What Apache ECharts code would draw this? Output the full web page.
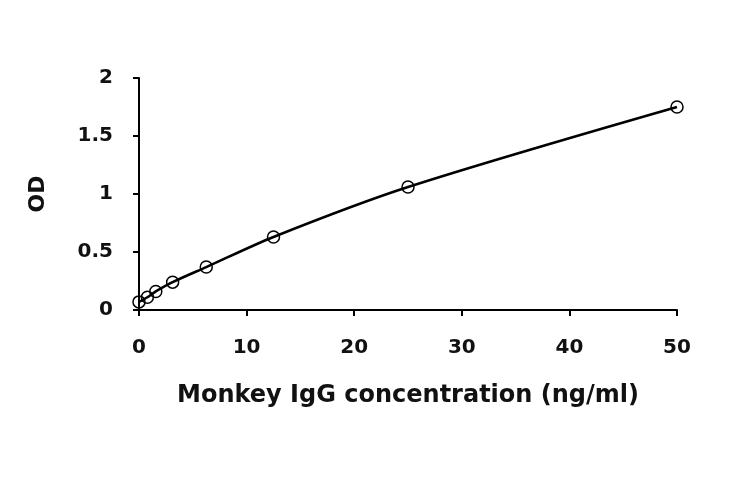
<!DOCTYPE html>
<html><head><meta charset="utf-8">
<script src="https://cdn.jsdelivr.net/npm/echarts@6/dist/echarts.min.js"></script>
<style>html,body{margin:0;padding:0;background:#fff}#c{width:730px;height:478px}</style>
</head><body><div id="c"></div>
<script>
const concentrations = [0, 0.78, 1.56, 3.125, 6.25, 12.5, 25, 50];
const odValues = [0.07, 0.11, 0.16, 0.24, 0.37, 0.63, 1.06, 1.75];
const xTicks = [0, 10, 20, 30, 40, 50];
const yTicks = [0, 0.5, 1, 1.5, 2];

const chart = echarts.init(document.getElementById('c'));
const font = 'DejaVu Sans';
chart.setOption({
  animation: false,
  backgroundColor: '#fff',
  grid: {left: 139, right: 53, top: 78, bottom: 168, containLabel: false},
  xAxis: {
    type: 'value', min: 0, max: 50, interval: 10,
    name: 'Monkey IgG concentration (ng/ml)', nameLocation: 'middle', nameGap: 74,
    nameTextStyle: {fontFamily: font, fontWeight: 'bold', fontSize: 24, color: '#111'},
    axisLine: {show: true, lineStyle: {color: '#000', width: 2}},
    axisTick: {show: true, length: 6, lineStyle: {color: '#000', width: 2}},
    axisLabel: {fontFamily: font, fontWeight: 'bold', fontSize: 20, color: '#111', margin: 28,
      formatter: v => xTicks.includes(v) ? String(v) : ''},
    splitLine: {show: false}
  },
  yAxis: {
    type: 'value', min: 0, max: 2, interval: 0.5,
    name: 'OD', nameLocation: 'middle', nameGap: 90, nameRotate: 90,
    nameTextStyle: {fontFamily: font, fontWeight: 'bold', fontSize: 22, color: '#111'},
    axisLine: {show: true, lineStyle: {color: '#000', width: 2}},
    axisTick: {show: true, length: 6, lineStyle: {color: '#000', width: 2}},
    axisLabel: {fontFamily: font, fontWeight: 'bold', fontSize: 20, color: '#111', margin: 26,
      formatter: v => yTicks.includes(v) ? String(v) : ''},
    splitLine: {show: false}
  },
  series: [{
    type: 'line', smooth: 0.3,
    data: concentrations.map((c, i) => [c, odValues[i]]),
    symbol: 'circle', symbolSize: 12, showSymbol: true,
    itemStyle: {color: 'rgba(255,255,255,0)', borderColor: '#000', borderWidth: 1.5},
    lineStyle: {color: '#000', width: 2.6}
  }]
});
</script></body></html>
